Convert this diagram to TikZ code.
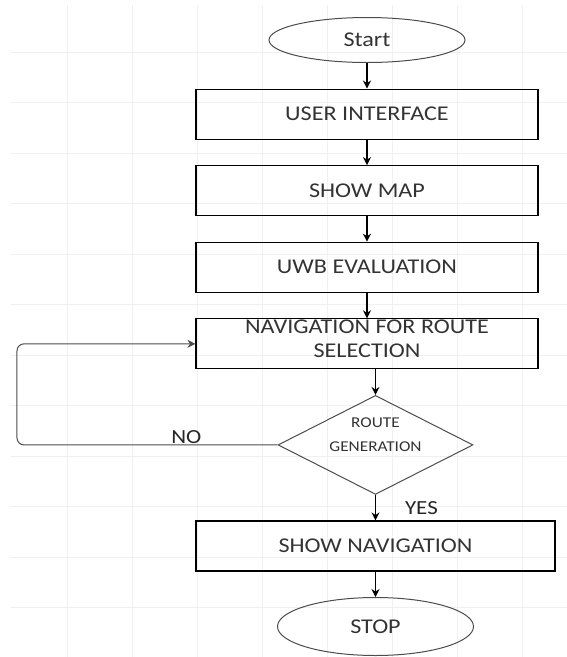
\documentclass[tikz,border=0pt]{standalone}
\usepackage{fontspec}
\setmainfont{Carlito}[FakeStretch=1.15]
\usetikzlibrary{shapes.geometric,chains,positioning,arrows.meta}

\begin{document}
\begin{tikzpicture}[x=1pt, y=1pt,
    block/.style={rectangle, draw, line width=1.1pt, minimum width=342pt,
      minimum height=50pt, align=center, text=black!80,
      font=\fontsize{21}{24}\selectfont, on chain},
    terminal/.style={ellipse, draw=black!70, line width=1pt, minimum width=196pt,
      inner sep=0pt, text=black!80, font=\fontsize{21}{24}\selectfont, on chain},
    decision/.style={diamond, draw=black!70, line width=1pt, minimum width=195pt,
      minimum height=99pt, inner sep=0pt, on chain},
    flow/.style={draw, line width=1.1pt, ->},
    tag/.style={inner sep=1pt, text=black!85, font=\fontsize{20}{24}\selectfont},
    gridline/.style={black!6, line width=0.6pt},
    >={Stealth[length=8pt,width=8pt]},
    start chain=going below, node distance=25.5pt]

  % page and faint grid behind the chart
  \useasboundingbox (-367,40) rectangle (200,-617);
  \foreach \gx in {-300,-235,...,155}
    \draw[gridline] (\gx,35) -- (\gx,-617);
  \foreach \gy in {-12,-62.5,...,-600}
    \draw[gridline] (-357,\gy) -- (200,\gy);

  \node[terminal, minimum height=45pt] (start) {Start};
  \node[block] (ui) {USER INTERFACE};
  \node[block] (map) {SHOW MAP};
  \node[block] (uwb) {UWB EVALUATION};
  \node[block, inner ysep=0pt, text depth=10pt] (nav) {NAVIGATION FOR ROUTE\\SELECTION};
  \node[decision, xshift=8.5pt, label={[yshift=10.5pt, align=center, text=black!80,
    font=\fontsize{15}{24}\selectfont]center:ROUTE\\GENERATION}] (route) {};
  \node[block, minimum width=359pt] (shownav) {SHOW NAVIGATION};
  \node[terminal, minimum height=58pt] (stop) {STOP};

  \coordinate (loop) at (-350,0);

  \draw[flow] (start) -- (ui);
  \draw[flow] (ui) -- (map);
  \draw[flow] (map) -- (uwb);
  \draw[flow] (uwb) -- (nav);
  \draw[flow] (nav.south -| route.north) -- (route.north);
  \draw[flow] (route) -- node[tag, right=28pt] (yes) {YES} (shownav);
  \draw[flow] (shownav) -- (stop);
  \draw[flow, draw=black!70, line width=1pt, rounded corners=7pt] (route.west)
    -- node[tag, above, pos=.35] (no) {NO} (route.west -| loop) |- (nav.west);

\end{tikzpicture}
\end{document}
